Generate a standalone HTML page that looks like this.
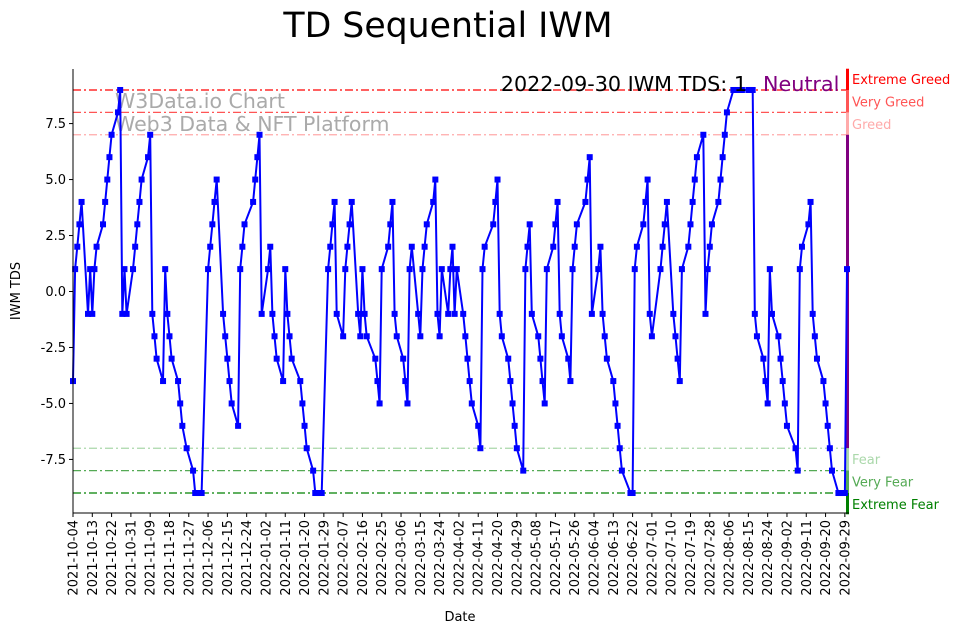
<!DOCTYPE html>
<html><head><meta charset="utf-8"><style>
body{margin:0;background:#fff;}
svg{display:block;font-family:"DejaVu Sans","Liberation Sans",sans-serif;}
</style></head><body>
<svg id="chart" width="967" height="633" viewBox="0 0 967 633" xmlns="http://www.w3.org/2000/svg">
<text x="448" y="37" font-size="34.7" text-anchor="middle" fill="#000">TD Sequential IWM</text>
<g id="bands"></g>
<g id="watermark">
<text x="115" y="108" font-size="20.5" fill="#aaa">W3Data.io Chart</text>
<text x="115" y="131" font-size="20.5" fill="#aaa">Web3 Data &amp; NFT Platform</text>
</g>
<g id="series"></g>
<g id="axes"></g>
<text x="747" y="91" font-size="20.7" text-anchor="end" fill="#000">2022-09-30 IWM TDS: 1</text>
<text x="763" y="91" font-size="20.7" fill="#800080">Neutral</text>
<text transform="translate(20,291) rotate(-90)" font-size="13" text-anchor="middle">IWM TDS</text>
<text x="460" y="621" font-size="13" text-anchor="middle">Date</text>
</svg>
<script>
const weekValues = [
[-4,1,2,3,4],[-1,1,-1,1,2],[3,4,5,6,7],[8,9,-1,1,-1],[1,2,3,4,5],[6,7,-1,-2,-3],[-4,1,-1,-2,-3],
[-4,-5,-6,null,-7],[-8,-9,-9,-9,-9],[1,2,3,4,5],[-1,-2,-3,-4,-5],[-6,1,2,3,null],[4,5,6,7,-1],
[1,2,-1,-2,-3],[-4,1,-1,-2,-3],[null,-4,-5,-6,-7],[-8,-9,-9,-9,-9],[1,2,3,4,-1],[-2,1,2,3,4],
[-1,-2,1,-1,-2],[null,-3,-4,-5,1],[2,3,4,-1,-2],[-3,-4,-5,1,2],[-1,-2,1,2,3],[4,5,-1,-2,1],
[-1,1,2,-1,1],[-1,-2,-3,-4,-5],[-6,-7,1,2,null],[3,4,5,-1,-2],[-3,-4,-5,-6,-7],[-8,1,2,3,-1],
[-2,-3,-4,-5,1],[2,3,4,-1,-2],[-3,-4,1,2,3],[null,4,5,6,-1],[1,2,-1,-2,-3],[-4,-5,-6,-7,-8],
[null,-9,-9,1,2],[3,4,5,-1,-2],[null,1,2,3,4],[-1,-2,-3,-4,1],[2,3,4,5,6],[7,-1,1,2,3],
[4,5,6,7,8],[9,9,9,9,9],[9,9,9,-1,-2],[-3,-4,-5,1,-1],[-2,-3,-4,-5,-6],[null,-7,-8,1,2],
[3,4,-1,-2,-3],[-4,-5,-6,-7,-8],[-9,-9,-9,-9,1]
];
const startDate = "2021-10-04";
const tickStepDays = 9;
const tickCount = 41;
const yTicks = [-7.5,-5,-2.5,0,2.5,5,7.5];
const zoneLevels = [9,8,7,-7,-8,-9];
const zoneNames = ["Extreme Greed","Very Greed","Greed","Fear","Very Fear","Extreme Fear"];
const zoneColors = ["#ff0000","#ff5555","#ffaaaa","#aad8aa","#55aa55","#008000"];

const dates = [], values = [];
(function(){
  const s = new Date(startDate+"T00:00:00Z");
  weekValues.forEach((wk,w)=>wk.forEach((v,d)=>{
    if(v===null) return;
    const dt = new Date(s.getTime()+(w*7+d)*86400000);
    dates.push(dt); values.push(v);
  }));
})();

const NS="http://www.w3.org/2000/svg";
const X0=73, PXD=774/361, YMID=291.5, PXU=22.39;
const t0=new Date(startDate+"T00:00:00Z").getTime();
function xs(d){return X0+(d.getTime()-t0)/86400000*PXD;}
function ys(v){return YMID-v*PXU;}
function mk(tag,attrs,parent){const e=document.createElementNS(NS,tag);for(const k in attrs)e.setAttribute(k,attrs[k]);parent.appendChild(e);return e;}
const XR=849, YT=69, YB=513;
const bands=document.getElementById('bands'), series=document.getElementById('series'), axes=document.getElementById('axes');

zoneLevels.forEach((lv,i)=>{
  const l=mk('line',{x1:X0,x2:XR,y1:ys(lv),y2:ys(lv),stroke:zoneColors[i],'stroke-width':1.2,'stroke-dasharray':'8,3,2,3'},bands);
  
  
  const t=mk('text',{x:852,y:ys(lv)+(lv>0?-6:16),'font-size':13,fill:zoneColors[i]},bands);
  t.textContent=zoneNames[i];
  
  
});
const segs=[[9.95,9,'#ff0000'],[9,8,'#ff5555'],[8,7,'#ffaaaa'],[7,-7,'#800080'],[-7,-8,'#aad8aa'],[-8,-9,'#55aa55'],[-9,-9.95,'#008000']];
segs.forEach((s,i)=>{
  const r=mk('rect',{x:XR-3,y:ys(s[0]),width:3,height:ys(s[1])-ys(s[0]),fill:s[2]},bands);
  
  
});

const pts=dates.map((d,i)=>xs(d).toFixed(1)+','+ys(values[i]).toFixed(1)).join(' ');
const pl=mk('polyline',{points:pts,fill:'none',stroke:'#0000ff','stroke-width':2},series);


dates.forEach((d,i)=>{
  const r=mk('rect',{x:xs(d)-3,y:ys(values[i])-3,width:6,height:6,fill:'#0000ff'},series);
  
  
});

const ya=mk('line',{x1:X0,x2:X0,y1:YT,y2:YB,stroke:'#000','stroke-width':1},axes);


const xa=mk('line',{x1:X0,x2:XR,y1:YB,y2:YB,stroke:'#000','stroke-width':1},axes);


yTicks.forEach(v=>{
  mk('line',{x1:X0-4,x2:X0,y1:ys(v),y2:ys(v),stroke:'#000'},axes);
  const t=mk('text',{x:X0-7,y:ys(v)+4.5,'font-size':13,'text-anchor':'end'},axes);
  t.textContent=v.toFixed(1);
  
  
});
for(let k=0;k<tickCount;k++){
  const d=new Date(t0+k*tickStepDays*86400000);
  const x=xs(d);
  mk('line',{x1:x,x2:x,y1:YB,y2:YB+4,stroke:'#000'},axes);
  const t=mk('text',{transform:`translate(${(x+4.5).toFixed(1)},${YB+7}) rotate(-90)`,'font-size':13,'text-anchor':'end'},axes);
  t.textContent=d.toISOString().slice(0,10);
  
  
}
</script>
</body></html>
